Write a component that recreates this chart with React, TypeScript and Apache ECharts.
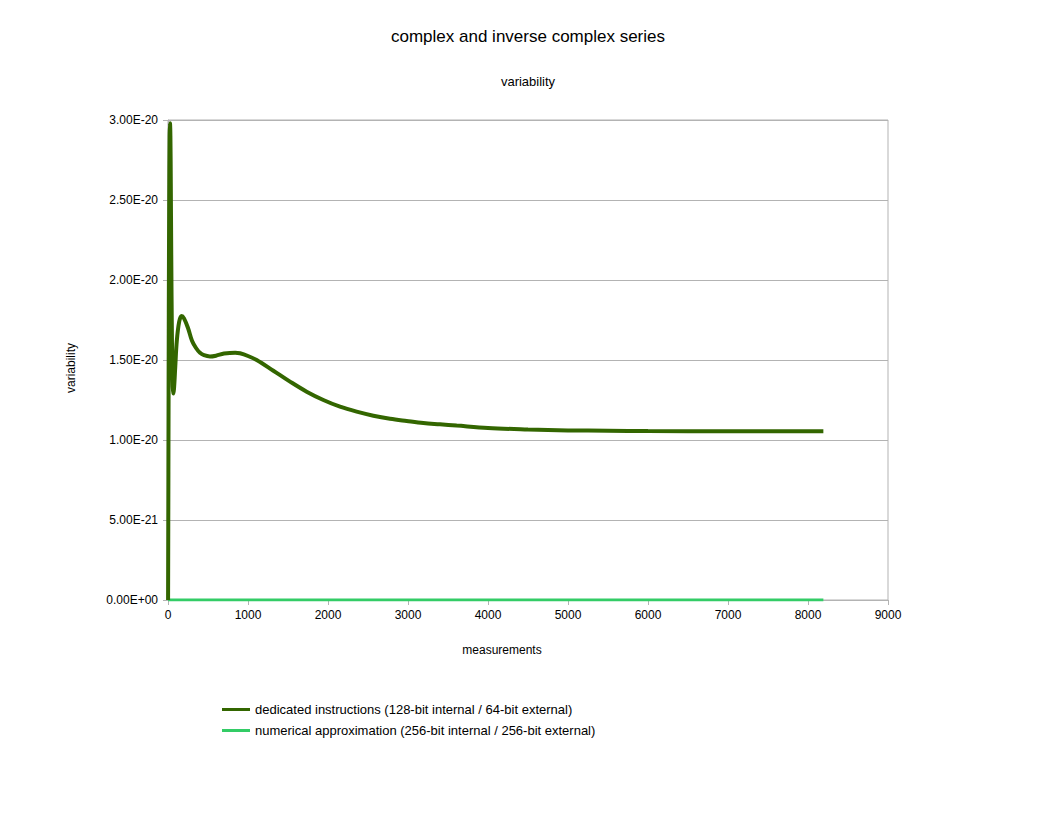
import React, { useEffect, useRef } from "react";
import * as echarts from "echarts";

const titleText = "complex and inverse complex series";
const subtitleText = "variability";
const xAxisName = "measurements";
const yAxisName = "variability";

const seriesNames = [
  "dedicated instructions (128-bit internal / 64-bit external)",
  "numerical approximation (256-bit internal / 256-bit external)",
];

// measurement number / variability (real units)
const dedicatedX = [
  1, 5, 10, 15, 20, 25, 30, 35, 40, 50, 60, 66, 75, 90, 110, 140, 170, 200, 250,
  300, 350, 400, 450, 525, 600, 700, 840, 900, 1000, 1108, 1317, 1525, 1733,
  1942, 2150, 2358, 2567, 2775, 2983, 3192, 3400, 3608, 4000, 4500, 5000, 5500,
  6000, 7000, 8192,
];
const dedicatedY = [
  0, 0.8e-20, 1.8e-20, 2.5e-20, 2.9e-20, 2.98e-20, 2.9e-20, 2.6e-20, 2.2e-20,
  1.6e-20, 1.33e-20, 1.29e-20, 1.32e-20, 1.45e-20, 1.62e-20, 1.74e-20,
  1.775e-20, 1.76e-20, 1.7e-20, 1.62e-20, 1.575e-20, 1.545e-20, 1.53e-20,
  1.522e-20, 1.527e-20, 1.54e-20, 1.546e-20, 1.542e-20, 1.525e-20, 1.5e-20,
  1.433e-20, 1.365e-20, 1.302e-20, 1.25e-20, 1.208e-20, 1.177e-20, 1.152e-20,
  1.133e-20, 1.119e-20, 1.106e-20, 1.098e-20, 1.09e-20, 1.075e-20, 1.066e-20,
  1.06e-20, 1.058e-20, 1.056e-20, 1.055e-20, 1.055e-20,
];

const approxX = [1, 1000, 2000, 3000, 4000, 5000, 6000, 7000, 8000, 8192];
const approxY = [0, 0, 0, 0, 0, 0, 0, 0, 0, 0];

const yTickStep = 5e-21;
const yMax = 3e-20;

const colors = ["#336600", "#33cc66"];
const font = "Liberation Sans, Arial, sans-serif";

// axis works in units of 1e-20 (ECharts struggles with tiny tick steps)
const UNIT = 1e-20;

function fmtExp(v: number): string {
  if (Math.abs(v) < 1e-40) return "0.00E+00";
  const s = v.toExponential(2);
  const [m, e] = s.split("e");
  const n = parseInt(e, 10);
  const sign = n < 0 ? "-" : "+";
  const abs = Math.abs(n);
  return `${m}E${sign}${abs < 10 ? "0" + abs : abs}`;
}

export default function App() {
  const ref = useRef<HTMLDivElement>(null);
  useEffect(() => {
    document.body.style.margin = "0";
    if (!ref.current) return;
    const chart = echarts.init(ref.current, undefined, { renderer: "svg" });
    const zip = (xs: number[], ys: number[]) => xs.map((x, i) => [x, ys[i] / UNIT]);
    chart.setOption({
      animation: false,
      backgroundColor: "#ffffff",
      title: [
        {
          text: titleText,
          left: "center",
          top: 23,
          textStyle: { fontFamily: font, fontSize: 17, fontWeight: "normal", color: "#000" },
        },
        {
          text: subtitleText,
          left: "center",
          top: 70,
          textStyle: { fontFamily: font, fontSize: 13, fontWeight: "normal", color: "#000" },
        },
      ],
      graphic: [
        {
          type: "text",
          x: 71,
          y: 368,
          rotation: Math.PI / 2,
          style: {
            text: yAxisName,
            fontFamily: font,
            fontSize: 12,
            fill: "#000",
            align: "center",
            verticalAlign: "middle",
          },
        },
      ],
      grid: {
        left: 168,
        top: 120,
        width: 720,
        height: 480,
        show: true,
        borderColor: "#b3b3b3",
        borderWidth: 1,
        containLabel: false,
      },
      legend: {
        orient: "vertical",
        left: 222,
        top: 703,
        padding: 0,
        itemWidth: 28,
        itemHeight: 3,
        itemGap: 8,
        icon: "rect",
        textStyle: { fontFamily: font, fontSize: 13, color: "#000" },
        data: seriesNames,
      },
      xAxis: {
        type: "value",
        min: 0,
        max: 9000,
        interval: 1000,
        name: xAxisName,
        nameLocation: "middle",
        nameGap: 44,
        nameTextStyle: { fontFamily: font, fontSize: 12, color: "#000", padding: [0, 52, 0, 0] },
        axisLine: { show: true, lineStyle: { color: "#b3b3b3" } },
        axisTick: { show: true, length: 5, lineStyle: { color: "#b3b3b3" } },
        axisLabel: {
          fontFamily: font,
          fontSize: 12,
          color: "#000",
          margin: 9,
          formatter: (v: number) => String(v),
        },
        splitLine: { show: false },
      },
      yAxis: {
        type: "value",
        min: 0,
        max: yMax / UNIT,
        interval: yTickStep / UNIT,
        axisLine: { show: true, lineStyle: { color: "#b3b3b3" } },
        axisTick: { show: true, length: 5, lineStyle: { color: "#b3b3b3" } },
        axisLabel: {
          fontFamily: font,
          fontSize: 12,
          color: "#000",
          margin: 10,
          formatter: (v: number) => fmtExp(v * UNIT),
        },
        splitLine: { show: true, lineStyle: { color: "#b3b3b3", width: 1 } },
      },
      series: [
        {
          name: seriesNames[0],
          type: "line",
          data: zip(dedicatedX, dedicatedY),
          smooth: 0.35,
          showSymbol: false,
          lineStyle: { color: colors[0], width: 4 },
          itemStyle: { color: colors[0] },
          z: 3,
        },
        {
          name: seriesNames[1],
          type: "line",
          data: zip(approxX, approxY),
          showSymbol: false,
          lineStyle: { color: colors[1], width: 3 },
          itemStyle: { color: colors[1] },
          z: 2,
        },
      ],
    });
    return () => chart.dispose();
  }, []);
  return <div ref={ref} style={{ width: 1056, height: 816 }} />;
}
